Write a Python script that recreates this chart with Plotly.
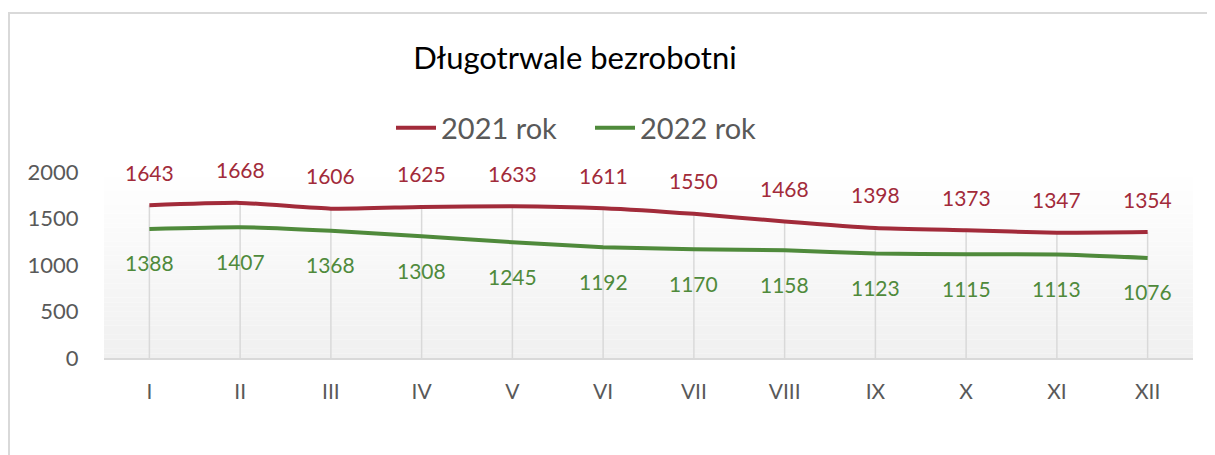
import plotly.graph_objects as go

months = ["I", "II", "III", "IV", "V", "VI", "VII", "VIII", "IX", "X", "XI", "XII"]
rok_2021 = [1643, 1668, 1606, 1625, 1633, 1611, 1550, 1468, 1398, 1373, 1347, 1354]
rok_2022 = [1388, 1407, 1368, 1308, 1245, 1192, 1170, 1158, 1123, 1115, 1113, 1076]
y_ticks = [0, 500, 1000, 1500, 2000]

RED = "#A22B3A"
GREEN = "#4F8A3B"
GRAY_TXT = "#595959"
FONT = "Lato"

OFF = 8  # page body margin
W, H = 1215 - OFF, 455 - OFF
ML, MR, MT, MB = 104 - OFF, 22, 172 - OFF, 97
PW = W - ML - MR
PH = H - MT - MB

xs = list(range(len(months)))

fig = go.Figure()

# drop lines from the highest point down to the axis
dx, dy = [], []
for i in xs:
    dx += [i, i, None]
    dy += [0, max(rok_2021[i], rok_2022[i]), None]
fig.add_trace(go.Scatter(x=dx, y=dy, mode="lines", line=dict(color="#d9d9d9", width=1.5),
                         showlegend=False, hoverinfo="skip"))

fig.add_trace(go.Scatter(x=xs, y=rok_2021, mode="lines", name="2021 rok",
                         line=dict(color=RED, width=4, shape="spline", smoothing=0.5)))
fig.add_trace(go.Scatter(x=xs, y=rok_2022, mode="lines", name="2022 rok",
                         line=dict(color=GREEN, width=4, shape="spline", smoothing=0.5)))

annotations = []
for i in xs:
    annotations.append(dict(x=i, y=rok_2021[i], text=str(rok_2021[i]), showarrow=False,
                            yshift=33, font=dict(family=FONT, size=21, color=RED)))
    annotations.append(dict(x=i, y=rok_2022[i], text=str(rok_2022[i]), showarrow=False,
                            yshift=-34, font=dict(family=FONT, size=21, color=GREEN)))

shapes = []
N = 40
for k in range(N):
    t = k / N
    c = int(round(240 + 15 * (t + 0.5 / N)))
    c = min(c, 255)
    shapes.append(dict(type="rect", xref="paper", yref="paper", x0=0, x1=1,
                       y0=t, y1=(k + 1) / N, fillcolor=f"rgb({c},{c},{c})",
                       line=dict(width=0), layer="below"))
# chart border
shapes.append(dict(type="rect", xref="paper", yref="paper",
                   x0=(9 - OFF - ML) / PW, x1=(W + 20 - ML) / PW,
                   y0=-(H + 20 - (H - MB)) / PH, y1=1 + (MT - (13 - OFF)) / PH,
                   line=dict(color="#d9d9d9", width=2), fillcolor="rgba(0,0,0,0)", layer="above"))

fig.update_layout(
    width=W, height=H,
    margin=dict(l=ML, r=MR, t=MT, b=MB),
    paper_bgcolor="white", plot_bgcolor="white",
    title=dict(text="Długotrwale bezrobotni", x=(575 - OFF) / W, xref="container", xanchor="center",
               y=1 - (58 - OFF) / H, yref="container", yanchor="middle",
               font=dict(family=FONT, size=31, color="black")),
    legend=dict(orientation="h", x=(391 - OFF - ML) / PW, xanchor="left",
                y=1 + (MT - (128 - OFF)) / PH,
                yanchor="middle", font=dict(family=FONT, size=29, color=GRAY_TXT),
                bgcolor="rgba(0,0,0,0)", itemwidth=40, tracegroupgap=0,
                entrywidth=144),
    xaxis=dict(range=[-0.5, len(months) - 0.5], tickmode="array", tickvals=xs, ticktext=months,
               showgrid=False, zeroline=False, showline=True, linecolor="#d9d9d9", linewidth=2,
               ticks="outside", ticklen=14, tickcolor="rgba(0,0,0,0)",
               tickfont=dict(family=FONT, size=21, color=GRAY_TXT)),
    yaxis=dict(range=[0, 2000], tickmode="array", tickvals=y_ticks, showgrid=False,
               zeroline=False, showline=False, ticks="outside", ticklen=20,
               tickcolor="rgba(0,0,0,0)",
               tickfont=dict(family=FONT, size=22, color=GRAY_TXT)),
    annotations=annotations,
    shapes=shapes,
    showlegend=True,
)

fig.write_html("out.html")
